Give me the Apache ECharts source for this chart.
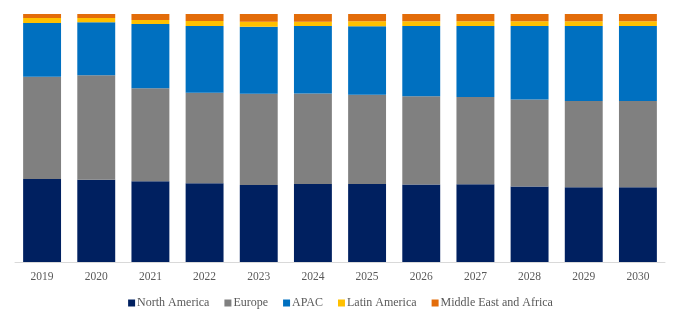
<!DOCTYPE html>
<html>
<head>
<meta charset="utf-8">
<script src="https://cdn.jsdelivr.net/npm/echarts@6/dist/echarts.min.js"></script>
<style>
html,body{margin:0;padding:0;background:#fff;}
#chart{width:681px;height:322px;}
</style>
</head>
<body>
<div id="chart"></div>
<script>
const categories = ['2019','2020','2021','2022','2023','2024','2025','2026','2027','2028','2029','2030'];
const northAmerica = [33.5,33.2,32.5,31.7,31.0,31.5,31.5,31.2,31.3,30.4,30.1,30.1];
const europe       = [41.3,42.1,37.5,36.5,36.8,36.4,35.9,35.6,35.2,35.1,34.8,34.8];
const apac         = [21.7,21.4,25.9,26.9,27.0,27.3,27.7,28.3,28.6,29.7,30.2,30.2];
const latinAmerica = [2.0,1.7,1.6,2.0,2.0,1.7,2.0,1.9,1.9,1.9,1.9,1.9];
const middleEastAfrica = [1.6,1.6,2.4,2.8,3.1,3.1,2.9,2.9,2.9,2.9,2.9,2.9];

const seriesNames = ['North America','Europe','APAC','Latin America','Middle East and Africa'];
const seriesData = [northAmerica, europe, apac, latinAmerica, middleEastAfrica];
const colors = ['#002060','#808080','#0070C0','#FFC000','#E36C09'];

// normalise to 100%
const totals = categories.map((_, i) => seriesData.reduce((s, arr) => s + arr[i], 0));

const chart = echarts.init(document.getElementById('chart'), null, {renderer: 'canvas'});
chart.setOption({
  animation: false,
  color: colors,
  grid: {left: 15, right: 16, top: 14, bottom: 60, containLabel: false},
  legend: {
    bottom: 8,
    left: 'center',
    icon: 'rect',
    itemWidth: 7,
    itemHeight: 7,
    itemGap: 15,
    textStyle: {fontFamily: '"Liberation Serif","Times New Roman",serif', fontSize: 12, color: '#595959', padding: [0, 0, 0, -3]},
    data: seriesNames
  },
  xAxis: {
    type: 'category',
    data: categories,
    axisTick: {show: false},
    axisLine: {lineStyle: {color: '#d9d9d9', width: 1}},
    axisLabel: {margin: 9, fontFamily: '"Liberation Serif","Times New Roman",serif', fontSize: 11.5, color: '#595959'}
  },
  yAxis: {
    type: 'value', min: 0, max: 100, show: false, splitLine: {show: false}
  },
  series: seriesNames.map((name, k) => ({
    name: name,
    type: 'bar',
    stack: 'total',
    barCategoryGap: '30%',
    data: seriesData[k].map((v, i) => v / totals[i] * 100)
  }))
});
</script>
</body>
</html>
